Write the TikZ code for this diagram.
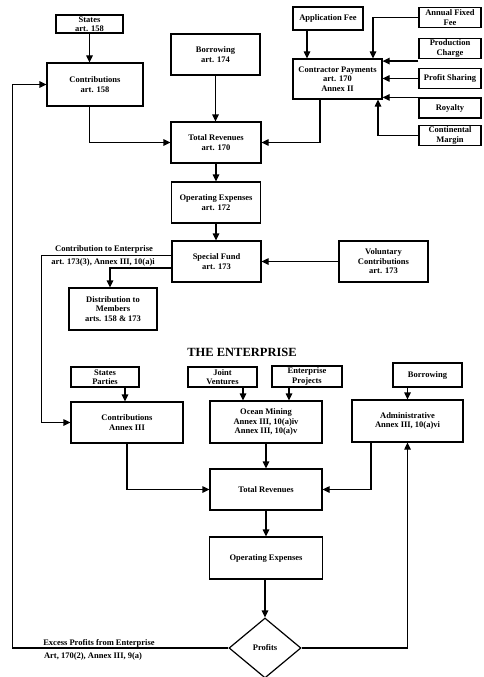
\documentclass[tikz,border=0pt]{standalone}
\usepackage{fontspec}
\setmainfont{Liberation Serif}
\usetikzlibrary{arrows.meta, shapes.geometric, positioning}

\begin{document}
\begin{tikzpicture}[x=1pt, y=-1pt,
  every node/.style={font=\fontsize{8.5}{9.5}\selectfont\bfseries},
  box/.style={rectangle, draw, line width=1.2pt, fill=white, align=center, inner sep=1pt},
  side/.style={box, minimum width=62pt, minimum height=20pt},
  lbl/.style={inner sep=0pt, align=center},
  arr/.style={-{Triangle[length=7pt,width=6.5pt]}, line width=1.2pt},
]
\useasboundingbox (0,0) rectangle (483,677);

% --- upper part: the Authority
\node[box, minimum width=67pt, minimum height=18pt]  (states)  at (89.5,24)   {States\\art. 158};
\node[box, minimum width=96pt, minimum height=43pt]  (contrib) at (95,84.5)   {Contributions\\art. 158};
\node[box, minimum width=89pt, minimum height=41pt]  (borrow)  at (215.5,54.5){Borrowing\\art. 174};
\node[box, minimum width=90pt, minimum height=41pt]  (totrev)  at (216,142.5) {Total Revenues\\art. 170};
\node[box, minimum width=89pt, minimum height=41pt]  (opexp)   at (216,202.5) {Operating Expenses\\art. 172};
\node[box, minimum width=89pt, minimum height=41pt]  (fund)    at (216.5,261.5){Special Fund\\art. 173};
\node[box, minimum width=89pt, minimum height=41pt]  (volun)   at (383.5,261.5){Voluntary\\Contributions\\art. 173};
\node[box, minimum width=88pt, minimum height=42pt]  (distr)   at (113,309)   {Distribution to\\Members\\arts. 158 \& 173};

% contractor payments
\node[box, minimum width=89pt, minimum height=40pt]  (contr)   at (337.5,79)  {Contractor Payments\\art. 170\\Annex II};
\node[box, minimum width=70pt, minimum height=23pt]  (appfee)  at (328,18.5)  {Application Fee};
\node[side] (annual)  at (450,17.5)  {Annual Fixed\\Fee};
\node[side] (prod)    at (450,48.5)  {Production\\Charge};
\node[side] (profsh)  at (450,78.5)  {Profit Sharing};
\node[side] (royalty) at (450,108)   {Royalty};
\node[side] (contmar) at (450,135.5) {Continental\\Margin};

\coordinate (appout)  at ([xshift=-21pt]appfee.south);
\coordinate (annin)   at ([xshift=35.5pt]contr.north);
\coordinate (prodout) at ([yshift=-2pt]prod.south west);
\coordinate (cmin)    at ([xshift=40.5pt]contr.south);
\coordinate (contout) at ([xshift=-17.5pt]contr.south);

\draw[arr] (states.south) -- (states.south |- contrib.north);
\draw[arr] (states.south |- contrib.south) |- (totrev.west);
\draw[arr] (borrow.south) -- (borrow.south |- totrev.north);
\draw[arr] (totrev.south) -- (totrev.south |- opexp.north);
\draw[arr] (opexp.south) -- (opexp.south |- fund.north);
\draw[arr] (volun.west) -- (fund.east);
\draw[arr] ([yshift=-6.5pt]fund.west) -| ([xshift=-3pt]distr.north);

\draw[arr] (appout) -- (appout |- contr.north);
\draw[arr] (annual.west) -| (annin);
\draw[arr] (prodout) -- (prodout -| contr.east);
\draw[arr] (profsh.west) -- (profsh.west -| contr.east);
\draw[arr] (royalty.north west) -- (royalty.north west -| contr.east);
\draw[arr] (contmar.west) -| (cmin);
\draw[arr] (contout) |- (totrev.east);

% --- lower part: the Enterprise
\node[font=\fontsize{12.5}{14}\selectfont\bfseries] (title) at (242,352) {THE ENTERPRISE};

\node[box, minimum width=68pt, minimum height=20pt]  (sparties) at (105,377)   {States\\Parties};
\node[box, minimum width=69pt, minimum height=20pt]  (joint)    at (222.5,377) {Joint\\Ventures};
\node[box, minimum width=70pt, minimum height=21pt]  (eproj)    at (307,376.5) {Enterprise\\Projects};
\node[box, minimum width=69pt, minimum height=24pt]  (eborrow)  at (427.5,375) {Borrowing};
\node[box, minimum width=112pt, minimum height=41pt] (econtrib) at (127,422.5) {Contributions\\Annex III};
\node[box, minimum width=112pt, minimum height=42pt] (mining)   at (266,422)   {Ocean Mining\\Annex III, 10(a)iv\\Annex III, 10(a)v};
\node[box, minimum width=111pt, minimum height=42pt] (admin)    at (407.5,421) {Administrative\\Annex III, 10(a)vi};
\node[box, minimum width=112pt, minimum height=41pt] (etotrev)  at (266,489.5) {Total Revenues};
\node[box, minimum width=113pt, minimum height=42pt] (eopexp)   at (266,558)   {Operating Expenses};
\node[diamond, draw, line width=1.2pt, fill=white, inner sep=0pt,
      minimum width=72pt, minimum height=60pt] (profits) at (265,648) {Profits};

\coordinate (spout) at ([xshift=20pt]sparties.south);
\coordinate (jvout) at ([xshift=20.5pt]joint.south);
\coordinate (epout) at ([xshift=-18pt]eproj.south);
\coordinate (ebout) at ([xshift=-20pt]eborrow.south);
\coordinate (adout) at ([xshift=-36.5pt]admin.south);

\draw[arr] (spout) -- (spout |- econtrib.north);
\draw[arr] (jvout) -- (jvout |- mining.north);
\draw[arr] (epout) -- (epout |- mining.north);
\draw[arr] (ebout) -- (ebout |- admin.north);
\draw[arr] (econtrib.south) |- (etotrev.west);
\draw[arr] (mining.south) -- (etotrev.north);
\draw[arr] (adout) |- (etotrev.east);
\draw[arr] (etotrev.south) -- (eopexp.north);
\draw[arr] (profits.north |- eopexp.south) -- (profits.north);
\draw[arr] (profits.east) -| (admin.south);

% links between the two parts
\draw[arr] ([yshift=6pt]fund.west) -| ([xshift=-29pt]econtrib.west) -- (econtrib.west);
\node[lbl] (contlbl)  at (104,249.5) {Contribution to Enterprise};
\node[lbl] (contlbl2) at (103,262)   {art. 173(3), Annex III, 10(a)i};

\draw[arr] (profits.west) -| ([xshift=-34pt]contrib.west) -- (contrib.west);
\node[lbl] (exclbl)  at (99,643) {Excess Profits from Enterprise};
\node[lbl] (exclbl2) at (93,656) {Art, 170(2), Annex III, 9(a)};

\end{tikzpicture}
\end{document}
